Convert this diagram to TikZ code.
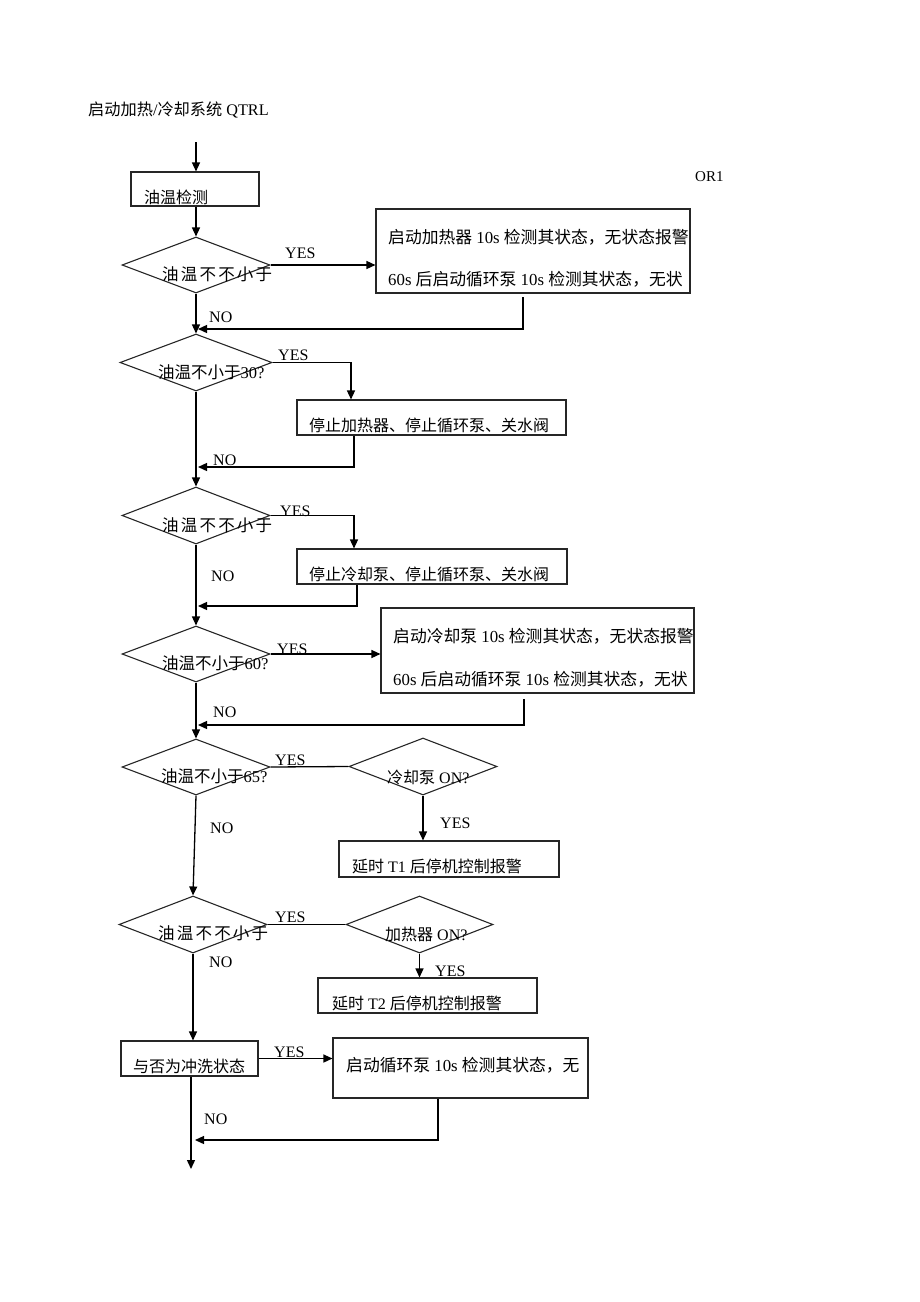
\documentclass[tikz,border=0pt]{standalone}
\usepackage{fontspec}
\setmainfont{Liberation Serif}
\newfontfamily\cjk{Noto Sans CJK SC}
\usetikzlibrary{shapes.geometric,arrows.meta}
\newcommand\zh[1]{{\cjk #1}}
\newcommand\gp{\hspace{2.2pt}}
\begin{document}
\begin{tikzpicture}[x=1pt,y=-1pt,
  box/.style={draw=black!85, line width=1.1pt, rectangle, inner sep=0pt},
  dia/.style={draw=black!85, line width=1.1pt, diamond, inner sep=0pt},
  txt/.style={anchor=west, inner sep=0pt, font=\fontsize{16}{18}\selectfont},
  big/.style={txt, font=\fontsize{16.8}{19}\selectfont},
  dtx/.style={txt, font=\fontsize{16.5}{19}\selectfont},
  lbl/.style={anchor=base west, inner sep=0pt, font=\fontsize{16}{18}\selectfont},
  conn/.style={line width=1.3pt, draw=black},
  arr/.style={conn, -{Triangle[length=9pt,width=8pt]}},
]
\useasboundingbox (0,0) rectangle (920,1302);

% title
\node[txt, font=\fontsize{16.2}{18}\selectfont] (title) at (88,110) {\zh{启动加热}/\zh{冷却系统} QTRL};
\node[lbl, font=\fontsize{15}{17}\selectfont] (or1) at (695,181) {OR1};

% boxes
\node[box, minimum width=128pt, minimum height=34pt] (b1) at (195,189) {};
\node[box, minimum width=314pt, minimum height=84pt] (bB) at (533,251) {};
\node[box, minimum width=269pt, minimum height=35pt] (bD) at (431.5,417.5) {};
\node[box, minimum width=270pt, minimum height=35pt] (bF) at (432,566.5) {};
\node[box, minimum width=313pt, minimum height=85pt] (bH) at (537.5,650.5) {};
\node[box, minimum width=220pt, minimum height=36pt] (bK) at (449,859) {};
\node[box, minimum width=219pt, minimum height=35pt] (bN) at (427.5,995.5) {};
\node[box, minimum width=137pt, minimum height=35pt] (bO) at (189.5,1058.5) {};
\node[box, minimum width=255pt, minimum height=60pt] (bP) at (460.5,1068) {};

% diamonds
\node[dia, minimum width=148pt, minimum height=56pt] (d1) at (196,265) {};
\node[dia, minimum width=152pt, minimum height=57pt] (d2) at (196,362.5) {};
\node[dia, minimum width=148pt, minimum height=57pt] (d3) at (196,515.5) {};
\node[dia, minimum width=148pt, minimum height=56pt] (d4) at (196,654) {};
\node[dia, minimum width=148pt, minimum height=56pt] (d5) at (196,767) {};
\node[dia, minimum width=148pt, minimum height=57pt] (d6) at (423,766.5) {};
\node[dia, minimum width=148pt, minimum height=57pt] (d7) at (193,924.5) {};
\node[dia, minimum width=147pt, minimum height=57pt] (d8) at (419.5,924.5) {};

% texts
\node[txt] (t1) at (144,197) {\zh{油温检测}};
\node[dtx] (td1) at (162,274) {\zh{油}\gp\zh{温}\gp\zh{不}\gp\zh{不}\gp\zh{小}\gp\zh{于}};
\node[big] (tB1) at (388,237) {\zh{启动加热器} 10s \zh{检测其状态，无状态报警}};
\node[big] (tB2) at (388,279) {60s \zh{后启动循环泵} 10s \zh{检测其状态，无状}};
\node[dtx] (td2) at (158,372) {\zh{油温不小于}30?};
\node[txt] (tD) at (309,425) {\zh{停止加热器、停止循环泵、关水阀}};
\node[dtx] (td3) at (162,525) {\zh{油}\gp\zh{温}\gp\zh{不}\gp\zh{不}\gp\zh{小}\gp\zh{于}};
\node[txt] (tF) at (309,574) {\zh{停止冷却泵、停止循环泵、关水阀}};
\node[dtx] (td4) at (162,663) {\zh{油温不小于}60?};
\node[big] (tH1) at (393,636) {\zh{启动冷却泵} 10s \zh{检测其状态，无状态报警}};
\node[big] (tH2) at (393,679) {60s \zh{后启动循环泵} 10s \zh{检测其状态，无状}};
\node[dtx] (td5) at (161,776) {\zh{油温不小于}65?};
\node[txt] (td6) at (387,777) {\zh{冷却泵} ON?};
\node[txt] (tK) at (352,866) {\zh{延时} T1 \zh{后停机控制报警}};
\node[dtx] (td7) at (158,933) {\zh{油}\gp\zh{温}\gp\zh{不}\gp\zh{不}\gp\zh{小}\gp\zh{于}};
\node[txt] (td8) at (385,934) {\zh{加热器} ON?};
\node[txt] (tN) at (332,1003) {\zh{延时} T2 \zh{后停机控制报警}};
\node[txt] (tO) at (133,1066) {\zh{与否为冲洗状态}};
\node[big] (tP) at (346,1065) {\zh{启动循环泵} 10s \zh{检测其状态，无}};

% YES / NO labels
\node[lbl] (y1) at (285,258.6) {YES};
\node[lbl] (y2) at (278,360) {YES};
\node[lbl] (y3) at (280,516) {YES};
\node[lbl] (y4) at (277,654) {YES};
\node[lbl] (y5) at (275,765) {YES};
\node[lbl] (y6) at (440,828.6) {YES};
\node[lbl] (y7) at (275,922) {YES};
\node[lbl] (y8) at (435,976) {YES};
\node[lbl] (y9) at (274,1057) {YES};
\node[lbl] (n1) at (209,322.6) {NO};
\node[lbl] (n2) at (213,465) {NO};
\node[lbl] (n3) at (211,581.6) {NO};
\node[lbl] (n4) at (213,717.6) {NO};
\node[lbl] (n5) at (210,833.6) {NO};
\node[lbl] (n6) at (209,967.6) {NO};
\node[lbl] (n7) at (204,1124.6) {NO};

% coordinates
\coordinate (s0) at (196,142);
\coordinate (r1) at (523,297);
\coordinate (j1) at (198,329);
\coordinate (k2) at (351,0);
\coordinate (r2) at (354,0);
\coordinate (j2) at (198,467);
\coordinate (k3) at (354,0);
\coordinate (r3) at (357,0);
\coordinate (j3) at (198,606);
\coordinate (r4) at (524,699);
\coordinate (j4) at (198,725);
\coordinate (r5) at (438,0);
\coordinate (j5) at (195,1140);
\coordinate (e0) at (191,1169);

% connectors
\draw[arr] (s0) -- (s0 |- b1.north);
\draw[arr] (d1.north |- b1.south) -- (d1.north);
\draw[arr] (d1.east) -- (d1.east -| bB.west);
\draw[arr] (r1) |- (j1);
\draw[arr] (d1.south) -- (d2.north);
\draw[arr] (d2.east) -| (k2 |- bD.north);
\draw[arr] (r2 |- bD.south) |- (j2);
\draw[arr] (d2.south) -- (d3.north);
\draw[arr] (d3.east) -| (k3 |- bF.north);
\draw[arr] (r3 |- bF.south) |- (j3);
\draw[arr] (d3.south) -- (d4.north);
\draw[arr] (d4.east) -- (d4.east -| bH.west);
\draw[arr] (r4) |- (j4);
\draw[arr] (d4.south) -- (d5.north);
\draw[conn] (d5.east) -- (d6.west);
\draw[arr] (d6.south) -- (d6.south |- bK.north);
\draw[arr] (d5.south) -- (d7.north);
\draw[conn] (d7.east) -- (d8.west);
\draw[arr] (d8.south) -- (d8.south |- bN.north);
\draw[arr] (d7.south) -- (d7.south |- bO.north);
\draw[arr] (bO.east) -- (bO.east -| bP.west);
\draw[arr] (r5 |- bP.south) |- (j5);
\draw[arr] (e0 |- bO.south) -- (e0);
\end{tikzpicture}
\end{document}
